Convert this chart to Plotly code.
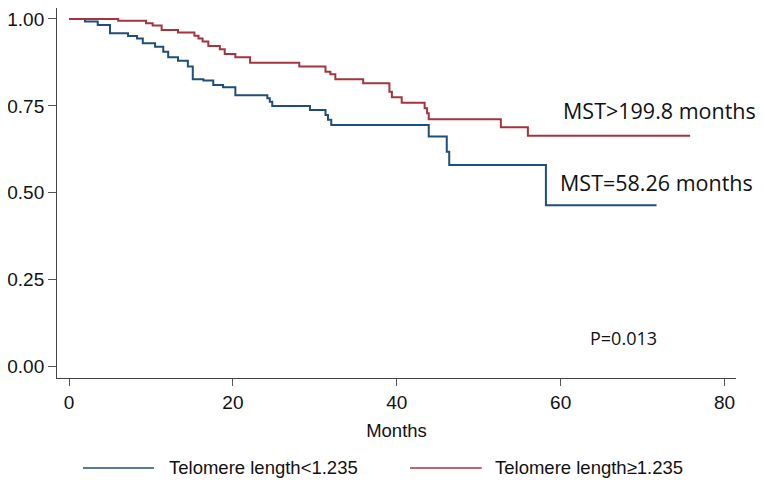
import plotly.graph_objects as go

# Kaplan-Meier steps (months, survival)
short_months = [0, 1.95, 3.5, 5.0, 7.2, 8.3, 9.0, 10.5, 11.5, 12.1, 13.3, 14.5, 15.1,
                16.4, 17.6, 18.8, 20.3, 24.2, 24.5, 24.8, 29.4, 31.3, 31.6, 32.0,
                43.9, 46.1, 46.4, 58.2, 71.7]
short_surv = [1.0, 0.993, 0.983, 0.959, 0.951, 0.944, 0.930, 0.920, 0.906, 0.890, 0.880,
              0.863, 0.827, 0.823, 0.810, 0.804, 0.781, 0.772, 0.762, 0.750, 0.738, 0.724,
              0.710, 0.695, 0.662, 0.618, 0.580, 0.464, 0.464]

long_months = [0, 6.0, 9.4, 10.2, 11.3, 13.3, 15.3, 15.8, 16.3, 17.0, 18.4, 19.0, 20.3,
               22.1, 28.1, 31.3, 31.9, 32.5, 35.9, 39.1, 39.4, 40.6, 43.4, 43.7, 43.9,
               52.7, 56.0, 75.8]
long_surv = [1.0, 0.995, 0.988, 0.981, 0.968, 0.961, 0.952, 0.944, 0.935, 0.922, 0.913,
             0.899, 0.890, 0.874, 0.863, 0.848, 0.841, 0.827, 0.815, 0.791, 0.775, 0.759,
             0.743, 0.729, 0.712, 0.689, 0.664, 0.664]

x_ticks = [0, 20, 40, 60, 80]
y_ticks = [0, 0.25, 0.5, 0.75, 1.0]
series_names = ["Telomere length<1.235", "Telomere length\u22651.235"]

BLUE = "#1f4e7a"
RED = "#a3343f"
FONT = "Liberation Sans, Arial, sans-serif"
NOTE_FONT = "Open Sans, Lato, sans-serif"

fig = go.Figure()
fig.add_trace(go.Scatter(x=short_months, y=short_surv, mode="lines", line_shape="hv",
                         line=dict(color=BLUE, width=2), name=series_names[0]))
fig.add_trace(go.Scatter(x=long_months, y=long_surv, mode="lines", line_shape="hv",
                         line=dict(color=RED, width=2), name=series_names[1]))

# page body has an 8px margin, so the figure is a bit smaller than the window
fig.update_layout(
    width=756, height=478,
    margin=dict(l=49, r=28, t=0, b=108),
    paper_bgcolor="white", plot_bgcolor="white",
    showlegend=False,
    font=dict(family=FONT, size=19, color="#111"),
)
fig.update_xaxes(range=[-1.47, 81.4], tickvals=x_ticks, ticks="outside", ticklen=7,
                 tickcolor="#555", showline=True, linecolor="#444", linewidth=1,
                 showgrid=False, zeroline=False, title_text="Months",
                 title_standoff=12, title_font=dict(size=18.5))
fig.update_yaxes(range=[-0.0325, 1.0316], tickvals=y_ticks, tickformat=".2f",
                 ticks="outside", ticklen=8, tickcolor="#555", showline=True,
                 linecolor="#444", linewidth=1, showgrid=False, zeroline=False)

# notes
fig.add_annotation(x=60.0, y=0.738, xanchor="left", yanchor="middle", showarrow=False,
                   text="MST>199.8 months", font=dict(family=NOTE_FONT, size=21.5, color="#111"))
fig.add_annotation(x=59.7, y=0.531, xanchor="left", yanchor="middle", showarrow=False,
                   text="MST=58.26 months", font=dict(family=NOTE_FONT, size=21.5, color="#111"))
fig.add_annotation(x=63.3, y=0.083, xanchor="left", yanchor="middle", showarrow=False,
                   text="P=0.013", font=dict(family=NOTE_FONT, size=18, color="#111"))

# legend drawn by hand to get the long sample lines
leg_y = -0.2432
for x0, x1, tx, col, name in [(0.0383, 0.1429, 0.162, BLUE, series_names[0]),
                               (0.5199, 0.6255, 0.6421, RED, series_names[1])]:
    fig.add_shape(type="line", xref="paper", yref="paper", x0=x0, x1=x1, y0=leg_y, y1=leg_y,
                  line=dict(color=col, width=1.5))
    fig.add_annotation(xref="paper", yref="paper", x=tx, y=leg_y, xanchor="left",
                       yanchor="middle", showarrow=False, text=name,
                       font=dict(family=FONT, size=18.5, color="#111"))

fig.write_html("out.html")
